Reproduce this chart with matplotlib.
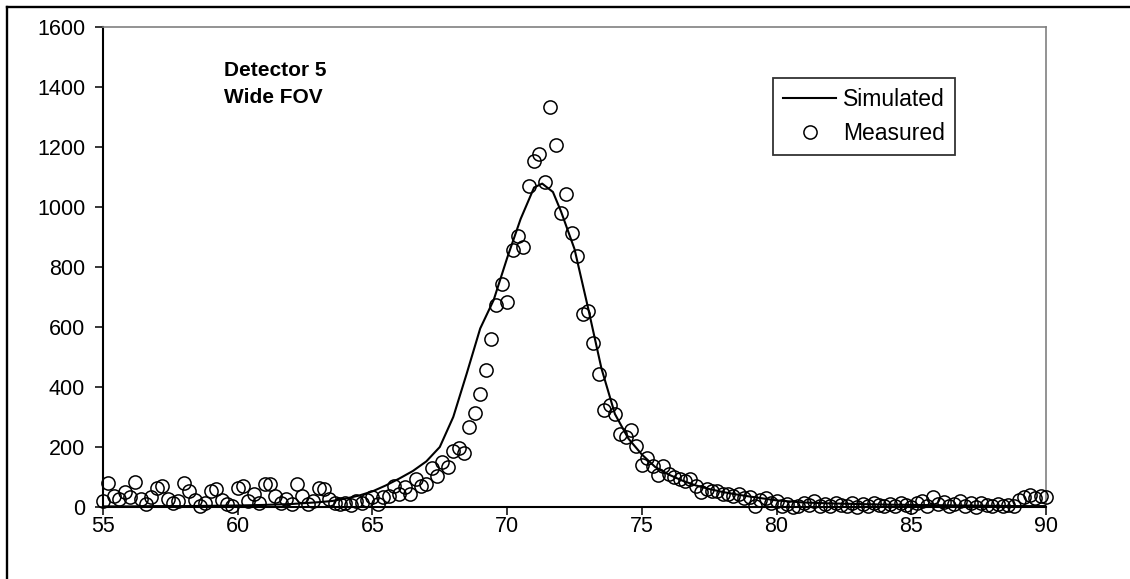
import matplotlib
matplotlib.use("Agg")
import matplotlib.pyplot as plt
from matplotlib.lines import Line2D

plt.rcParams['font.family'] = ['Liberation Sans', 'DejaVu Sans']

# ---------------- data ----------------
meas_x = [55.0, 55.2, 55.4, 55.6, 55.8, 56.0, 56.2, 56.4, 56.6, 56.8,
          57.0, 57.2, 57.4, 57.6, 57.8, 58.0, 58.2, 58.4, 58.6, 58.8,
          59.0, 59.2, 59.4, 59.6, 59.8, 60.0, 60.2, 60.4, 60.6, 60.8,
          61.0, 61.2, 61.4, 61.6, 61.8, 62.0, 62.2, 62.4, 62.6, 62.8,
          63.0, 63.2, 63.4, 63.6, 63.8, 64.0, 64.2, 64.4, 64.6, 64.8,
          65.0, 65.2, 65.4, 65.6, 65.8, 66.0, 66.2, 66.4, 66.6, 66.8,
          67.0, 67.2, 67.4, 67.6, 67.8, 68.0, 68.2, 68.4, 68.6, 68.8,
          69.0, 69.2, 69.4, 69.6, 69.8, 70.0, 70.2, 70.4, 70.6, 70.8,
          71.0, 71.2, 71.4, 71.6, 71.8, 72.0, 72.2, 72.4, 72.6, 72.8,
          73.0, 73.2, 73.4, 73.6, 73.8, 74.0, 74.2, 74.4, 74.6, 74.8,
          75.0, 75.2, 75.4, 75.6, 75.8, 76.0, 76.2, 76.4, 76.6, 76.8,
          77.0, 77.2, 77.4, 77.6, 77.8, 78.0, 78.2, 78.4, 78.6, 78.8,
          79.0, 79.2, 79.4, 79.6, 79.8, 80.0, 80.2, 80.4, 80.6, 80.8,
          81.0, 81.2, 81.4, 81.6, 81.8, 82.0, 82.2, 82.4, 82.6, 82.8,
          83.0, 83.2, 83.4, 83.6, 83.8, 84.0, 84.2, 84.4, 84.6, 84.8,
          85.0, 85.2, 85.4, 85.6, 85.8, 86.0, 86.2, 86.4, 86.6, 86.8,
          87.0, 87.2, 87.4, 87.6, 87.8, 88.0, 88.2, 88.4, 88.6, 88.8,
          89.0, 89.2, 89.4, 89.6, 89.8, 90.0]
meas_y = [21, 80, 38, 27, 49, 35, 82, 27, 10, 32,
          65, 71, 27, 15, 20, 80, 54, 25, 5, 15,
          54, 60, 25, 10, 5, 65, 71, 20, 43, 15,
          76, 76, 38, 15, 27, 10, 76, 38, 10, 20,
          65, 60, 27, 15, 10, 15, 8, 20, 15, 25,
          33, 10, 32, 38, 71, 43, 66, 43, 93, 71,
          77, 129, 105, 149, 132, 187, 196, 180, 267, 315,
          378, 457, 561, 675, 744, 684, 856, 905, 867, 1071,
          1152, 1178, 1082, 1333, 1207, 980, 1043, 914, 836, 642,
          655, 548, 442, 323, 340, 309, 243, 235, 256, 204,
          141, 165, 137, 106, 137, 110, 99, 93, 88, 93,
          70, 49, 60, 54, 54, 43, 43, 38, 45, 30,
          35, 2, 25, 30, 15, 20, 5, 10, 0, 5,
          15, 8, 20, 5, 10, 3, 15, 8, 5, 12,
          0, 10, 5, 15, 8, 3, 10, 5, 15, 8,
          0, 12, 20, 5, 32, 10, 18, 5, 10, 20,
          5, 12, 0, 15, 8, 3, 10, 2, 8, 5,
          25, 35, 40, 30, 38, 35]

sim_x = [55, 56, 57, 58, 59, 60, 61, 62, 63, 63.5, 64, 64.5, 65, 65.5, 66,
         66.5, 67, 67.5, 68, 68.5, 69, 69.5, 70, 70.5, 71, 71.3, 71.7, 72,
         72.5, 73, 73.5, 74, 74.5, 75, 75.5, 76, 76.5, 77, 77.5, 78, 78.5,
         79, 80, 81, 82, 83, 84, 85, 86, 87, 88, 89, 90]
sim_y = [2, 2, 3, 3, 4, 5, 7, 10, 16, 20, 28, 38, 52, 72, 95,
         120, 152, 200, 300, 445, 595, 690, 830, 960, 1065, 1078, 1050, 985,
         860, 665, 462, 310, 228, 175, 133, 108, 88, 72, 60, 50, 42,
         35, 22, 15, 12, 10, 8, 7, 6, 5, 4, 3, 3]

x_ticks = [55, 60, 65, 70, 75, 80, 85, 90]
y_ticks = [0, 200, 400, 600, 800, 1000, 1200, 1400, 1600]
series_names = ["Simulated", "Measured"]
annotation = "Detector 5\nWide FOV"

# ---------------- figure ----------------
W, H = 1130, 579
fig = plt.figure(figsize=(W / 100, H / 100), dpi=100)
fig.patch.set_facecolor('white')

ax = fig.add_axes([103 / W, (H - 507) / H, 943 / W, 480 / H])
ax.set_facecolor('white')

ax.plot(sim_x, sim_y, color='black', lw=1.5, label=series_names[0], zorder=3)
ax.plot(meas_x, meas_y, linestyle='none', marker='o', ms=9.5, mfc='none',
        mec='black', mew=1.1, label=series_names[1], clip_on=False, zorder=4)

ax.set_xlim(55, 90)
ax.set_ylim(0, 1600)
ax.set_xticks(x_ticks)
ax.set_yticks(y_ticks)
ax.tick_params(axis='both', direction='out', length=5.8, width=1.1,
               labelsize=15.5, colors='black')
ax.tick_params(axis='y', pad=7)
ax.tick_params(axis='x', pad=1)

for s in ['left', 'bottom']:
    ax.spines[s].set_color('black')
    ax.spines[s].set_linewidth(1.5)
for s in ['top', 'right']:
    ax.spines[s].set_color('#808080')
    ax.spines[s].set_linewidth(1.2)

leg = ax.legend(loc='upper left', bbox_to_anchor=(773 / W, 1 - 78 / H),
                bbox_transform=fig.transFigure, fontsize=16.5, frameon=True,
                fancybox=False, edgecolor='black', handlelength=2.35,
                handletextpad=0.3, labelspacing=0.5, borderpad=0.42,
                borderaxespad=0)
leg.get_frame().set_linewidth(1.3)

fig.text(224 / W, 1 - 61 / H, annotation, fontsize=15, fontweight='bold',
         va='top', ha='left', linespacing=1.55)

# outer chart border (left and top visible)
fig.add_artist(Line2D([7 / W, 7 / W], [0, 1 - 7 / H], color='black',
                      lw=1.7, transform=fig.transFigure))
fig.add_artist(Line2D([7 / W, 1], [1 - 7 / H, 1 - 7 / H], color='black',
                      lw=1.7, transform=fig.transFigure))

fig.savefig('out.png', dpi=100, facecolor='white')
